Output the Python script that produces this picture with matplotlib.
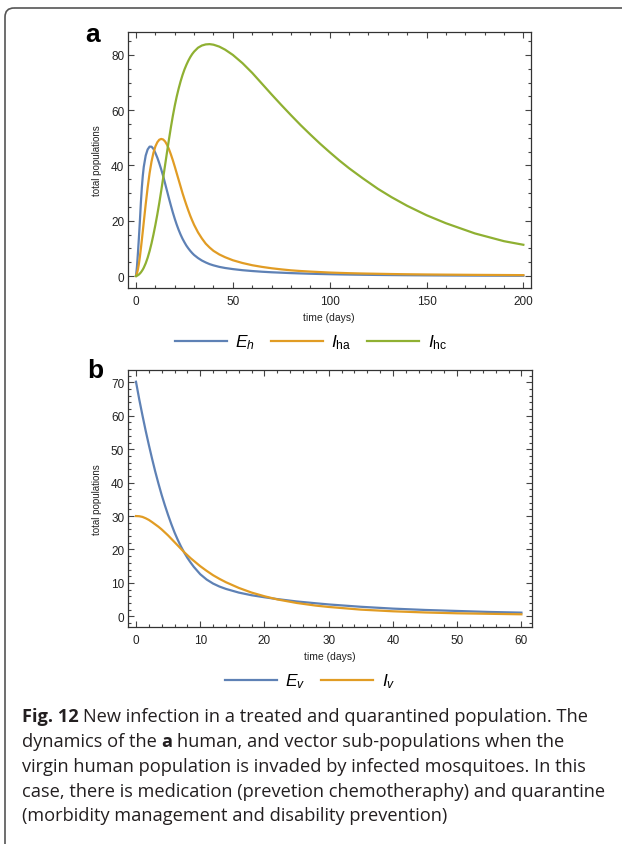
import matplotlib
matplotlib.use("Agg")
import matplotlib.pyplot as plt
from matplotlib.patches import FancyBboxPatch
from matplotlib.lines import Line2D
from matplotlib.ticker import MultipleLocator

plt.rcParams['font.family'] = ['Liberation Sans', 'DejaVu Sans']
plt.rcParams['mathtext.fontset'] = 'custom'
plt.rcParams['mathtext.rm'] = 'Liberation Sans'
plt.rcParams['mathtext.it'] = 'Liberation Sans:italic'

# (a) human sub-populations over 200 days
t_human = [0, 0.5, 1, 1.5, 2, 2.5, 3, 3.5, 4,
           5, 6, 7, 8, 9, 10, 11, 12, 13, 14, 15, 16, 17, 18, 19, 20, 21, 22, 23, 24, 25, 26, 27, 28, 29, 30,
           32, 34, 36, 38, 40, 43, 46, 50, 55, 60, 65, 70,
           75, 80, 85, 90, 95, 100, 105, 110, 117, 125, 132, 140, 150, 160, 175, 190, 200]
exposed_h = [0, 3.5, 8.5, 14, 20, 26.5, 32, 36.3, 39.5,
             43.6, 45.8, 46.8, 46.8, 46, 44.5, 42.8, 40.8, 38.6, 36.2, 33.5, 30.8, 28.1, 25.5, 23, 20.7,
             18.6, 16.7, 15, 13.5, 12.2, 11, 10, 9.1, 8.3, 7.6,
             6.5, 5.6, 4.9, 4.3, 3.85, 3.3, 2.9, 2.5, 2.1, 1.8, 1.55, 1.35,
             1.2, 1.05, 0.93, 0.82, 0.73, 0.65, 0.58, 0.52, 0.45, 0.38, 0.33, 0.28, 0.23, 0.19, 0.14, 0.11, 0.09]
acute_h = [0, 1, 2.5, 4.5, 7, 9.9, 13, 16.2, 19.5,
           26, 32, 37.2, 41.4, 44.6, 46.9, 48.4, 49.3, 49.6, 49.4, 48.7, 47.5, 45.9, 44, 41.9, 39.6,
           37.2, 34.8, 32.4, 30, 27.8, 25.7, 23.7, 21.8, 20.1, 18.5,
           15.8, 13.6, 11.7, 10.3, 9.1, 7.8, 6.8, 5.7, 4.7, 3.9, 3.3, 2.8,
           2.4, 2.05, 1.8, 1.6, 1.42, 1.25, 1.13, 1.02, 0.9, 0.8, 0.71, 0.63, 0.55, 0.49, 0.41, 0.35, 0.31]
chronic_h = [0, 0.1, 0.3, 0.55, 0.9, 1.3, 1.8, 2.35, 3,
             4.6, 6.6, 9, 11.8, 15, 18.5, 22.3, 26.4, 30.8, 35.4, 40.1, 44.8, 49.4, 53.8, 57.9, 61.6,
             64.9, 67.8, 70.4, 72.7, 74.7, 76.4, 77.9, 79.2, 80.3, 81.2,
             82.6, 83.4, 83.8, 83.9, 83.7, 83, 81.9, 80, 77, 73.5, 69.6, 65.7,
             61.9, 58.2, 54.6, 51.2, 47.9, 44.8, 41.8, 39, 35.4, 31.5, 28.5, 25.4, 22, 19.1, 15.4, 12.6, 11.3]
human_labels = [r'$E_h$', r'$I_{\mathrm{ha}}$', r'$I_{\mathrm{hc}}$']

# (b) vector sub-populations over 60 days
t_vector = [0, 0.5, 1, 1.5, 2, 2.5, 3, 3.5, 4, 4.5, 5, 5.5, 6, 6.5, 7, 7.5, 8, 8.5, 9,
            10, 11, 12, 13, 14, 16, 18, 20, 22, 25, 28, 30, 35, 40, 45, 50, 55, 60]
exposed_v = [70.2, 65, 60.2, 55.6, 51.3, 47.2, 43.3, 39.7, 36.3, 33.2, 30.3, 27.6, 25.1, 22.9, 20.9,
             19.1, 17.5, 16.1, 14.8,
             12.6, 11, 9.8, 8.9, 8.2, 7.1, 6.3, 5.7, 5.15, 4.45, 3.9, 3.55, 2.85, 2.3, 1.9, 1.6, 1.3, 1.1]
infected_v = [30, 29.95, 29.75, 29.35, 28.85, 28.2, 27.5, 26.8, 26, 25.1, 24.2, 23.2, 22.2, 21.2, 20.2,
              19.2, 18.3, 17.4, 16.6,
              15, 13.6, 12.3, 11.2, 10.2, 8.5, 7.1, 6, 5.05, 4, 3.2, 2.8, 2.0, 1.5, 1.15, 0.9, 0.75, 0.6]
vector_labels = [r'$E_v$', r'$I_v$']

colors = ['#5e81b5', '#e19c24', '#8fb032']

# caption, split into (text, weight) runs per line
caption_lines = [
    [('Fig. 12', 'bold'), ('New infection in a treated and quarantined population. The', 'normal')],
    [('dynamics of the', 'normal'), ('a', 'bold'), ('human, and vector sub-populations when the', 'normal')],
    [('virgin human population is invaded by infected mosquitoes. In this', 'normal')],
    [('case, there is medication (prevetion chemotheraphy) and quarantine', 'normal')],
    [('(morbidity management and disability prevention)', 'normal')],
]

W, H = 622, 845
fig = plt.figure(figsize=(W / 100, H / 100), dpi=100)

# page frame, open to the right and bottom, rounded top-left corner
bg = fig.add_axes([0, 0, 1, 1])
bg.set_xlim(0, W)
bg.set_ylim(H, 0)
bg.axis('off')
bg.add_patch(FancyBboxPatch((5, 9), W + 40, H + 40,
                            boxstyle='round,pad=0,rounding_size=9',
                            fill=False, ec='#555555', lw=1.2))


def style_axes(ax, xmaj, xmin, ymaj, ymin):
    ax.xaxis.set_major_locator(MultipleLocator(xmaj))
    ax.xaxis.set_minor_locator(MultipleLocator(xmin))
    ax.yaxis.set_major_locator(MultipleLocator(ymaj))
    ax.yaxis.set_minor_locator(MultipleLocator(ymin))
    ax.tick_params(which='both', direction='in', top=True, right=True,
                   color='#444444', width=0.8, labelsize=8.5, labelcolor='#222222')
    ax.tick_params(which='major', length=4.5)
    ax.tick_params(which='minor', length=2.5)
    ax.tick_params(axis='x', pad=5)
    ax.tick_params(axis='y', pad=2.5)
    for s in ax.spines.values():
        s.set_color('#333333')
        s.set_linewidth(0.9)
    ax.set_xlabel('time (days)', fontsize=7.5, color='#222222')
    ax.set_ylabel('total populations', fontsize=7, color='#222222')
    ax.xaxis.set_label_coords(0.5, -0.092)
    ax.yaxis.set_label_coords(-0.064, 0.5)


ax1 = fig.add_axes([127.7 / W, 1 - 289.3 / H, 403 / W, 256.6 / H])
for y, c in zip([exposed_h, acute_h, chronic_h], colors):
    ax1.plot(t_human, y, color=c, lw=1.6, solid_joinstyle='round')
ax1.set_xlim(-4.3, 203.8)
ax1.set_ylim(-4.45, 88.4)
style_axes(ax1, 50, 10, 20, 5)

ax2 = fig.add_axes([127.7 / W, 1 - 628.3 / H, 404.3 / W, 257.6 / H])
for y, c in zip([exposed_v, infected_v], colors):
    ax2.plot(t_vector, y, color=c, lw=1.6, solid_joinstyle='round')
ax2.set_xlim(-1.29, 61.65)
ax2.set_ylim(-3.29, 73.8)
style_axes(ax2, 10, 2, 10, 2)

legend_kw = dict(loc='center', frameon=False, fontsize=12.5, handlelength=3.0,
                 handletextpad=0.5, columnspacing=0.9)
fig.legend([Line2D([], [], color=c, lw=1.6) for c in colors], human_labels,
           bbox_to_anchor=(311 / W, 1 - 343 / H), ncol=3, **legend_kw)
fig.legend([Line2D([], [], color=c, lw=1.6) for c in colors[:2]], vector_labels,
           bbox_to_anchor=(310 / W, 1 - 682 / H), ncol=2, **legend_kw)

fig.text(93 / W, 1 - 35 / H, 'a', fontsize=19, fontweight='bold', ha='center', va='center')
fig.text(95 / W, 1 - 371 / H, 'b', fontsize=19, fontweight='bold', ha='center', va='center')

# caption text, runs laid out left to right with one space between them
cap_size = 13.15
space_px = 0.26 * cap_size * 100 / 72
renderer = fig.canvas.get_renderer()
for i, runs in enumerate(caption_lines):
    x = 22
    y = 722.5 + 24.75 * i
    for k, (s, weight) in enumerate(runs):
        if k:
            x += space_px
        t = fig.text(x / W, 1 - y / H, s, family='Open Sans', fontweight=weight,
                     fontsize=cap_size, color='#231f20', ha='left', va='baseline')
        x += t.get_window_extent(renderer=renderer).width

fig.savefig('out.png', dpi=100)
